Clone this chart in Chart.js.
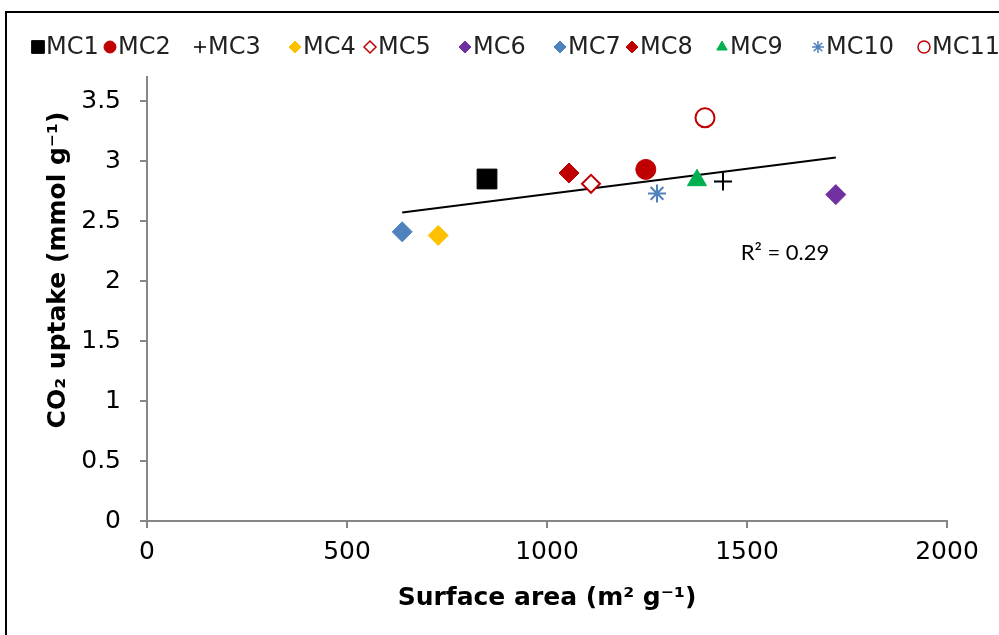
<!DOCTYPE html>
<html>
<head>
<meta charset="utf-8">
<script src="https://cdn.jsdelivr.net/npm/chart.js@4.4.1/dist/chart.umd.min.js"></script>
<style>
  html, body { margin: 0; padding: 0; background: #fff; }
  #wrap { width: 999px; height: 635px; }
</style>
</head>
<body>
<div id="wrap"><canvas id="chart" width="999" height="635"></canvas></div>
<script>
// サンプル名と値
const sampleNames = ['MC1', 'MC2', 'MC3', 'MC4', 'MC5', 'MC6', 'MC7', 'MC8', 'MC9', 'MC10', 'MC11'];
const surfaceArea = [850, 1247, 1440, 728, 1110, 1722, 638, 1055, 1375, 1275, 1395];
const co2Uptake = [2.85, 2.93, 2.83, 2.38, 2.81, 2.72, 2.41, 2.90, 2.84, 2.73, 3.36];

// 近似直線の端点
const trendX = [638, 1722];
const trendY = [2.57, 3.03];
const rSquaredText = 'R\u00B2 = 0.29';

const xTicks = [0, 500, 1000, 1500, 2000];
const yTicks = [0, 0.5, 1, 1.5, 2, 2.5, 3, 3.5];

// マーカーの見た目
const markerShapes = ['rect', 'circle', 'cross', 'rectRot', 'rectRot', 'rectRot', 'rectRot', 'rectRot', 'triangle', 'star', 'circle'];
const markerColors = ['#000000', '#C00000', '#000000', '#FFC000', '#C00000', '#7030A0', '#4F81BD', '#C00000', '#00B050', '#4F81BD', '#C00000'];
const markerHollow = [false, false, false, false, true, false, false, false, false, false, true];
const markerSizes = [14, 10, 9, 10, 9, 10, 10, 10, 11, 9, 9.5];
const legendMarkerX = [38, 110, 200, 295, 370, 465, 560, 632, 722, 818, 924];

const AXIS_GREY = '#868686';
const FONT = "'DejaVu Sans', Verdana, sans-serif";

const datasets = sampleNames.map((name, i) => ({
  label: name,
  data: [{ x: surfaceArea[i], y: co2Uptake[i] }],
  pointStyle: markerShapes[i],
  pointRadius: markerSizes[i],
  pointHoverRadius: markerSizes[i],
  backgroundColor: markerHollow[i] ? '#ffffff' : markerColors[i],
  borderColor: markerColors[i],
  borderWidth: markerHollow[i] || markerShapes[i] === 'cross' || markerShapes[i] === 'star' ? 2 : 1,
  showLine: false,
  order: 1,
}));

datasets.push({
  label: 'trend',
  data: trendX.map((x, i) => ({ x, y: trendY[i] })),
  showLine: true,
  borderColor: '#000000',
  borderWidth: 2,
  pointRadius: 0,
  order: 2,
});

// 凡例・R²・縦軸タイトル・枠線を描くプラグイン
const extrasPlugin = {
  id: 'extras',
  afterDraw(chart) {
    const ctx = chart.ctx;
    const xs = chart.scales.x;
    const ys = chart.scales.y;

    ctx.save();
    // R²
    ctx.fillStyle = '#000';
    ctx.font = "22px Lato, 'Open Sans', sans-serif";
    ctx.textAlign = 'center';
    ctx.textBaseline = 'middle';
    ctx.fillText(rSquaredText, xs.getPixelForValue(1595), ys.getPixelForValue(2.23));

    // 縦軸タイトル
    ctx.save();
    ctx.translate(58, 270);
    ctx.rotate(-Math.PI / 2);
    ctx.font = 'bold 25px ' + FONT;
    ctx.fillText('CO\u2082 uptake (mmol g\u207B\u00B9)', 0, 0);
    ctx.restore();

    // 凡例
    ctx.font = '24px ' + FONT;
    ctx.textAlign = 'left';
    sampleNames.forEach((name, i) => {
      const cx = legendMarkerX[i];
      const cy = 47;
      ctx.fillStyle = markerHollow[i] ? '#ffffff' : markerColors[i];
      ctx.strokeStyle = markerColors[i];
      ctx.lineWidth = markerHollow[i] || markerShapes[i] === 'cross' || markerShapes[i] === 'star' ? 1.5 : 1;
      Chart.helpers.drawPoint(ctx, { pointStyle: markerShapes[i], radius: markerShapes[i] === 'rect' ? 9 : 6, rotation: 0, borderWidth: ctx.lineWidth }, cx, cy);
      ctx.fillStyle = '#222';
      ctx.fillText(name, cx + 8, cy + 1);
    });

    // 外枠
    ctx.strokeStyle = '#000';
    ctx.lineWidth = 2;
    ctx.beginPath();
    ctx.moveTo(6, 635);
    ctx.lineTo(6, 12);
    ctx.lineTo(999, 12);
    ctx.stroke();
    ctx.restore();
  }
};

new Chart(document.getElementById('chart'), {
  type: 'scatter',
  data: { datasets },
  options: {
    responsive: false,
    devicePixelRatio: 1,
    animation: false,
    layout: { padding: { top: 77, right: 52, left: 0, bottom: 0 } },
    plugins: {
      legend: { display: false },
      tooltip: { enabled: false },
    },
    scales: {
      x: {
        type: 'linear',
        min: 0,
        max: 2000,
        afterBuildTicks: (scale) => { scale.ticks = xTicks.map((v) => ({ value: v })); },
        afterFit: (scale) => { scale.height = 114; },
        border: { color: AXIS_GREY, width: 2 },
        grid: { drawOnChartArea: false, drawTicks: true, tickLength: 7, color: AXIS_GREY, lineWidth: 2 },
        ticks: { color: '#000', font: { family: FONT, size: 25 }, padding: 9, maxRotation: 0, callback: (v) => String(v) },
        title: {
          display: true,
          text: 'Surface area (m\u00B2 g\u207B\u00B9)',
          color: '#000',
          font: { family: FONT, size: 25, weight: 'bold' },
          padding: { top: 0, bottom: 22 },
        },
      },
      y: {
        type: 'linear',
        min: 0,
        max: 3.7,
        afterBuildTicks: (scale) => { scale.ticks = yTicks.map((v) => ({ value: v })); },
        afterFit: (scale) => { scale.width = 147; },
        border: { color: AXIS_GREY, width: 2 },
        grid: { drawOnChartArea: false, drawTicks: true, tickLength: 7, color: AXIS_GREY, lineWidth: 2 },
        ticks: { color: '#000', font: { family: FONT, size: 25 }, padding: 19, callback: (v) => String(v) },
      },
    },
  },
  plugins: [extrasPlugin],
});
</script>
</body>
</html>
